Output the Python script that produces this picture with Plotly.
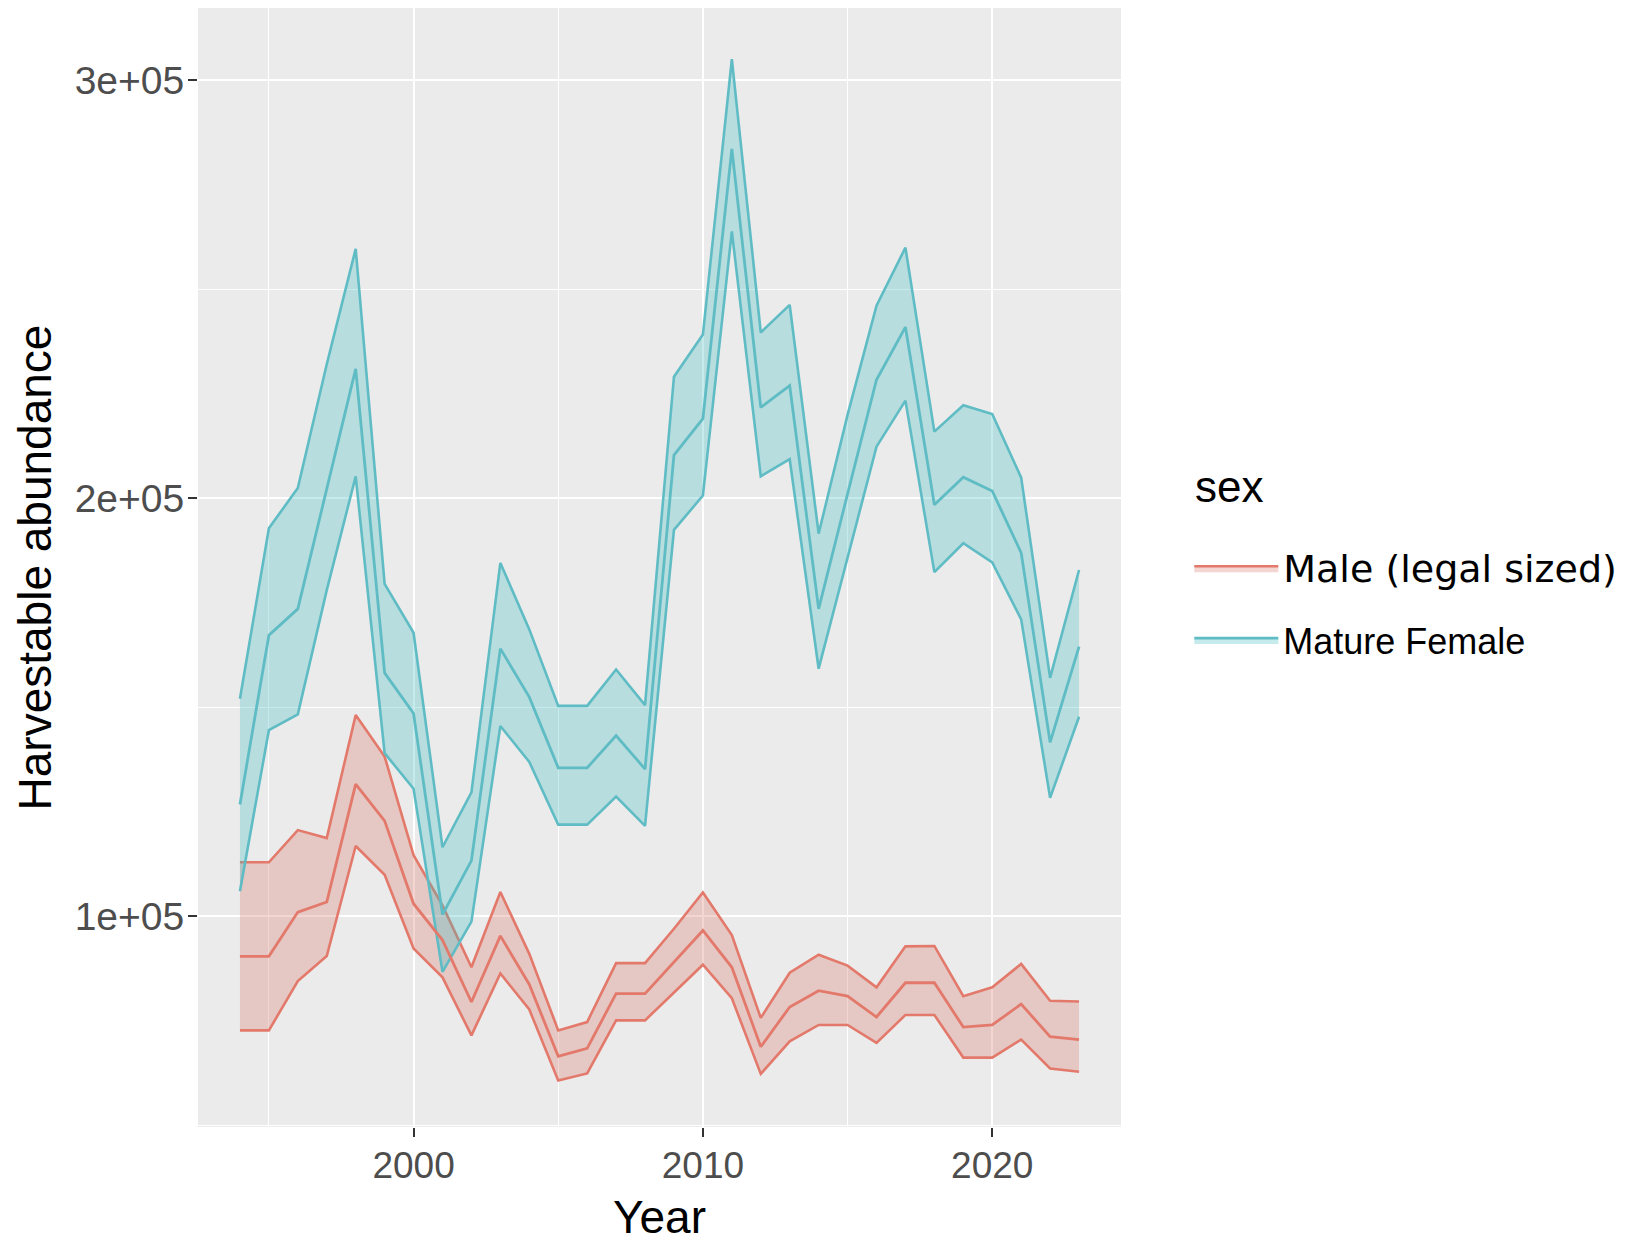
import plotly.graph_objects as go

years = list(range(1994, 2024))

male_lower = [72700, 72700, 84500, 90500, 116800, 109900, 92300, 85400, 71500, 86300,
              77700, 60700, 62400, 75100, 75100, 81700, 88400, 80400, 62300, 70100,
              74000, 74000, 69700, 76400, 76400, 66200, 66200, 70500, 63600, 62800]
male_mid = [90400, 90400, 101000, 103400, 131600, 122800, 103000, 94300, 79500, 95300,
            83700, 66500, 68400, 81500, 81500, 89000, 96600, 87800, 68800, 78300,
            82200, 80900, 75900, 84100, 84100, 73500, 74000, 79000, 71200, 70500]
male_upper = [112900, 112900, 120600, 118700, 148100, 138200, 114600, 102600, 87800, 105800,
              91000, 72700, 74700, 88800, 88800, 97000, 105700, 95500, 75700, 86500,
              90800, 88200, 83000, 92800, 92900, 80900, 83000, 88600, 79800, 79600]

female_lower = [106000, 144500, 148300, 178000, 205200, 139000, 130500, 86700, 98700, 145500,
                136900, 121900, 121900, 128600, 121600, 192400, 200600, 263800, 205200, 209300,
                159200, 186000, 212300, 223300, 182300, 189200, 184600, 171000, 128300, 147700]
female_mid = [126700, 167200, 173500, 202200, 230900, 158200, 148500, 100400, 113300, 164000,
              152400, 135500, 135500, 143200, 135200, 210300, 219000, 283500, 221700, 226900,
              173500, 201000, 228300, 240900, 198400, 205000, 201700, 186900, 141600, 164500]
female_upper = [152000, 192800, 202400, 232000, 259600, 179500, 167800, 116500, 129600, 184500,
                168600, 150300, 150300, 159000, 150500, 229000, 239100, 305000, 239600, 246200,
                191500, 219900, 246000, 259900, 215900, 222200, 220100, 204900, 157000, 182800]

series_names = ['<span style="font-family:DejaVu Sans;font-size:38px">Male (legal sized)</span>',
                'Mature Female']
legend_title = 'sex'
y_tickvals = [100000, 200000, 300000]
y_ticktext = ['1e+05', '2e+05', '3e+05']
x_tickvals = [2000, 2010, 2020]

red_line = '#E3796B'
red_fill = 'rgba(215,115,105,0.3)'
teal_line = '#5FBCC4'
teal_fill = 'rgba(62,188,192,0.3)'

FONT = 'Liberation Sans, Arial, sans-serif'

fig = go.Figure()

groups = [
    (series_names[0], male_lower, male_mid, male_upper, red_line, red_fill, 'm'),
    (series_names[1], female_lower, female_mid, female_upper, teal_line, teal_fill, 'f'),
]

for name, lo, mid, up, lc, fc, g in groups:
    fig.add_trace(go.Scatter(x=years, y=lo, mode='lines', line=dict(color=lc, width=2.6),
                             legendgroup=g, showlegend=False, hoverinfo='skip'))
    fig.add_trace(go.Scatter(x=years, y=up, mode='lines', line=dict(color=lc, width=2.6),
                             fill='tonexty', fillcolor=fc, legendgroup=g, name=name,
                             showlegend=True))

for name, lo, mid, up, lc, fc, g in groups:
    fig.add_trace(go.Scatter(x=years, y=mid, mode='lines', line=dict(color=lc, width=2.8),
                             legendgroup=g, showlegend=False))

# page body has an 8px margin, so the figure is made 8px smaller and margins shifted
fig.update_layout(
    width=1624, height=1235,
    margin=dict(l=190, r=511, t=0, b=116),
    paper_bgcolor='white',
    plot_bgcolor='#EBEBEB',
    font=dict(family=FONT, color='black'),
    legend=dict(
        font=dict(size=36, family=FONT, color='black'),
        x=1.074, xanchor='left', y=0.526, yanchor='top',
        itemwidth=84, bgcolor='rgba(0,0,0,0)', traceorder='grouped',
        tracegroupgap=22,
    ),
    annotations=[dict(text=legend_title, xref='paper', yref='paper', x=1.078, y=0.572,
                      xanchor='left', yanchor='middle', showarrow=False,
                      font=dict(size=44, family=FONT, color='black'))],
)

fig.update_xaxes(
    range=[1992.55, 2024.45], automargin=False,
    tickmode='array', tickvals=x_tickvals,
    ticks='outside', ticklen=9, tickwidth=2, tickcolor='#333333',
    ticklabelstandoff=-3,
    tickfont=dict(size=37, color='#4D4D4D', family=FONT),
    showgrid=True, gridcolor='white', gridwidth=2.4,
    minor=dict(tickmode='array', tickvals=[1995, 2005, 2015], showgrid=True,
               gridcolor='white', gridwidth=1.2, ticks=''),
    zeroline=False, showline=False,
    title=dict(text='Year', font=dict(size=46, color='black', family=FONT), standoff=16),
)
fig.update_yaxes(
    range=[49600, 317200], automargin=False,
    tickmode='array', tickvals=y_tickvals, ticktext=y_ticktext,
    ticks='outside', ticklen=9, tickwidth=2, tickcolor='#333333',
    ticklabelstandoff=-4,
    tickfont=dict(size=39, color='#4D4D4D', family=FONT),
    showgrid=True, gridcolor='white', gridwidth=2.4,
    minor=dict(tickmode='array', tickvals=[50000, 150000, 250000], showgrid=True,
               gridcolor='white', gridwidth=1.2, ticks=''),
    zeroline=False, showline=False,
    title=dict(text='Harvestable abundance', font=dict(size=46, color='black', family=FONT), standoff=8),
)

fig.write_html('out.html')
